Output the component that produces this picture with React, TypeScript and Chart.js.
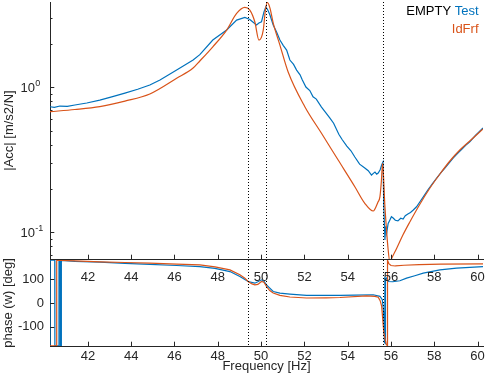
import React, { useEffect, useRef } from "react";
import { Chart, registerables } from "chart.js";

Chart.register(...registerables);

const FONT = "'Liberation Sans', Arial, Helvetica, sans-serif";
const AXIS_COLOR = "#262626";
const BLUE = "#0072BD";
const ORANGE = "#D95319";

// ---- axes ----
const xMin = 40.25;
const xMax = 60.25;
const xTicks = [42, 44, 46, 48, 50, 52, 54, 56, 58, 60];
const magMin = 0.0654;
const magMax = 3.88;
const magMajorTicks = [0.1, 1];
const magMajorLabels = ["-1", "0"];
const magMinorTicks = [0.07, 0.08, 0.09, 0.2, 0.3, 0.4, 0.5, 0.6, 0.7, 0.8, 0.9, 2, 3];
const phaseMin = -180;
const phaseMax = 180;
const phaseTicks = [-100, 0, 100];
const markerFreqs = [49.41, 50.22, 55.63];

const magTitle = "|Acc| [m/s2/N]";
const phaseTitle = "phase (w) [deg]";
const freqTitle = "Frequency [Hz]";
const legendPrefix = "EMPTY";
const testName = "Test";
const idName = "IdFrf";

// ---- IdFrf magnitude ----
const idFreq = [
  40.25, 41.4, 42.55, 43.71, 44.86, 46.1, 46.86, 47.17, 47.77, 48.41, 48.87, 49.25, 49.48, 49.71,
  49.9, 50.1, 50.2, 50.29, 50.41, 50.56, 50.87, 51.25, 52.02, 52.79, 53.56, 54.33, 54.79, 55.18,
  55.4, 55.49, 55.56, 55.61, 55.72, 55.87, 55.95, 56.04, 56.27, 56.55, 56.87, 57.34, 57.8, 58.26,
  58.72, 59.18, 59.64, 60.25,
];
const idMag = [
  0.679, 0.703, 0.737, 0.804, 0.899, 1.154, 1.359, 1.52, 1.905, 2.485, 3.237, 3.563, 3.414, 2.835,
  2.12, 2.485, 3.414, 3.85, 3.52, 2.776, 1.957, 1.275, 0.735, 0.482, 0.315, 0.2063, 0.1585, 0.1402,
  0.1618, 0.176, 0.2295, 0.299, 0.1502, 0.0755, 0.0624, 0.0665, 0.078, 0.0958, 0.1178, 0.1567, 0.202,
  0.2524, 0.3103, 0.3694, 0.4262, 0.5159,
];

// ---- Test magnitude ----
const testFreq = [
  40.25, 40.45, 40.71, 41.05, 41.4, 41.95, 42.55, 43.1, 43.71, 44.3, 44.86, 45.33, 46.1, 46.86, 47.17,
  47.77, 48.41, 48.87, 49.25, 49.48, 49.62, 49.79, 49.9, 50.02, 50.13, 50.22, 50.31, 50.41, 50.56,
  50.71, 50.87, 51.02, 51.18, 51.33, 51.5, 51.64, 51.8, 51.9, 52.07, 52.25, 52.4, 52.55, 52.79, 52.95,
  53.18, 53.35, 53.59, 53.75, 53.96, 54.15, 54.33, 54.55, 54.79, 54.95, 55.1, 55.2, 55.26, 55.34,
  55.41, 55.5, 55.57, 55.63, 55.67, 55.72, 55.76, 55.8, 55.87, 55.95, 56.02, 56.1, 56.2, 56.32, 56.45,
  56.56, 56.66, 56.78, 56.9, 57.03, 57.18, 57.33, 57.5, 57.7, 57.9, 58.11, 58.3, 58.49, 58.68, 58.87,
  59.08, 59.28, 59.45, 59.64, 59.9, 60.25,
];
const testMag = [
  0.735, 0.728, 0.743, 0.738, 0.755, 0.78, 0.817, 0.86, 0.913, 0.97, 1.037, 1.123, 1.316, 1.543, 1.68,
  2.12, 2.485, 2.911, 3.039, 2.935, 2.82, 2.69, 2.776, 2.835, 3.306, 3.596, 3.414, 3.152, 2.69, 2.418,
  2.12, 1.95, 1.808, 1.543, 1.44, 1.316, 1.22, 1.13, 1.005, 0.95, 0.86, 0.83, 0.731, 0.68, 0.614,
  0.565, 0.475, 0.435, 0.3936, 0.365, 0.3306, 0.295, 0.2776, 0.266, 0.2484, 0.256, 0.2605, 0.252,
  0.2564, 0.27, 0.2911, 0.3053, 0.1494, 0.0885, 0.11, 0.0989, 0.115, 0.1216, 0.128, 0.1255, 0.121,
  0.1197, 0.125, 0.1235, 0.13, 0.1337, 0.137, 0.1425, 0.15, 0.1618, 0.176, 0.1957, 0.215, 0.2368,
  0.257, 0.2776, 0.3, 0.3254, 0.35, 0.3754, 0.398, 0.4214, 0.465, 0.524,
];

// ---- IdFrf phase ----
const idPhaseFreq = [
  40.25, 40.55, 40.56, 41.4, 42.55, 43.71, 44.86, 46.1, 47.17, 47.87, 48.56, 49.02, 49.25, 49.4,
  49.58, 49.71, 49.85, 50.02, 50.13, 50.25, 50.4, 50.56, 50.87, 51.33, 52.1, 53.0, 53.64, 54.87,
  55.26, 55.41, 55.5, 55.57, 55.67, 55.78, 55.83, 55.84, 55.9, 56.0, 56.2, 56.6, 57.3, 58.3, 60.25,
];
const idPhase = [
  -179, -179, 179, 176, 172, 169.5, 166.7, 163, 159.6, 151, 138.7, 118, 104, 90, 80, 76, 78, 90, 87,
  69, 52, 42, 32, 25, 21, 21.5, 23, 30, 28, 24, 10, -14, -124, -172, -179, 179, 165, 157, 155, 158,
  161, 163, 164,
];

// ---- Test phase ----
const testPhaseFreq = [
  40.25, 40.252, 40.47, 40.475, 40.66, 40.665, 40.72, 40.725, 40.77, 40.775, 41.4, 42.55, 43.71, 44.86,
  46.1, 47.17, 47.87, 48.56, 49.02, 49.4, 49.71, 49.85, 50.02, 50.13, 50.25, 50.56, 50.87, 51.33,
  52.1, 53.64, 54.33, 55.18, 55.49, 55.6, 55.66, 55.7, 55.715, 55.73, 55.745, 55.78, 55.87, 56.08,
  56.41, 56.72, 57.1, 57.49, 58.26, 59.03, 59.64, 60.25,
];
const testPhase = [
  -179, 179, 179, -179, -179, 179, 179, -179, -179, 178, 174, 171, 166, 161.7, 157, 152.5, 145, 131.7,
  111, 90, 83, 89, 97, 91, 76, 48, 41, 37.5, 31.7, 31.7, 33, 34.6, 28, 14, -40, -165, 110, -170, 100,
  105, 90, 89, 93, 104, 114, 125, 139, 146, 149, 152.5,
];

const toPoints = (xs: number[], ys: number[]) => xs.map((x, i) => ({ x, y: ys[i] }));

function drawMarkers(chart: any) {
  const { ctx, chartArea } = chart;
  const xs = chart.scales.x;
  ctx.save();
  ctx.strokeStyle = "#000";
  ctx.lineWidth = 1;
  ctx.setLineDash([1, 2]);
  ctx.beginPath();
  for (const f of markerFreqs) {
    const px = Math.round(xs.getPixelForValue(f)) + 0.5;
    ctx.moveTo(px, chartArea.top);
    ctx.lineTo(px, chartArea.bottom);
  }
  ctx.stroke();
  ctx.restore();
}

function drawXTicks(chart: any, len: number) {
  const { ctx, chartArea } = chart;
  const xs = chart.scales.x;
  ctx.save();
  ctx.strokeStyle = AXIS_COLOR;
  ctx.lineWidth = 1;
  ctx.beginPath();
  for (const t of xTicks) {
    const px = Math.round(xs.getPixelForValue(t)) + 0.5;
    ctx.moveTo(px, chartArea.bottom);
    ctx.lineTo(px, chartArea.bottom - len);
  }
  ctx.stroke();
  ctx.restore();
}

function drawYTicks(chart: any, values: number[], len: number) {
  const { ctx, chartArea } = chart;
  const ys = chart.scales.y;
  ctx.save();
  ctx.strokeStyle = AXIS_COLOR;
  ctx.lineWidth = 1;
  ctx.beginPath();
  for (const v of values) {
    const py = Math.round(ys.getPixelForValue(v)) + 0.5;
    ctx.moveTo(chartArea.left, py);
    ctx.lineTo(chartArea.left + len, py);
  }
  ctx.stroke();
  ctx.restore();
}

function drawYTitle(chart: any, text: string, cx: number) {
  const { ctx, chartArea } = chart;
  ctx.save();
  ctx.fillStyle = AXIS_COLOR;
  ctx.font = `13px ${FONT}`;
  ctx.textAlign = "center";
  ctx.textBaseline = "middle";
  ctx.translate(cx, (chartArea.top + chartArea.bottom) / 2);
  ctx.rotate(-Math.PI / 2);
  ctx.fillText(text, 0, 0);
  ctx.restore();
}

const magPlugin = {
  id: "magDecor",
  afterDatasetsDraw(chart: any) {
    drawMarkers(chart);
  },
  afterDraw(chart: any) {
    const { ctx } = chart;
    const ys = chart.scales.y;
    drawXTicks(chart, 4.3);
    drawYTicks(chart, magMajorTicks, 4.3);
    drawYTicks(chart, magMinorTicks, 2.5);
    // log tick labels 10^n
    ctx.save();
    ctx.fillStyle = AXIS_COLOR;
    ctx.textAlign = "left";
    ctx.textBaseline = "middle";
    magMajorTicks.forEach((v, i) => {
      const py = ys.getPixelForValue(v);
      ctx.font = `13px ${FONT}`;
      ctx.fillText("10", 20.5, py + 1);
      const w = ctx.measureText("10").width;
      ctx.font = `9px ${FONT}`;
      ctx.fillText(magMajorLabels[i], 20.5 + w + 0.3, py - 4);
    });
    ctx.restore();
    drawYTitle(chart, magTitle, 9);
    // legend
    ctx.save();
    ctx.font = `13px ${FONT}`;
    ctx.textBaseline = "middle";
    ctx.textAlign = "right";
    const rx = 478.5;
    ctx.fillStyle = BLUE;
    ctx.fillText(testName, rx, 11);
    const wt = ctx.measureText(" " + testName).width;
    ctx.fillStyle = "#000";
    ctx.fillText(legendPrefix, rx - wt, 11);
    ctx.fillStyle = ORANGE;
    ctx.fillText(idName, rx, 29.5);
    ctx.restore();
  },
};

const phasePlugin = {
  id: "phaseDecor",
  afterDatasetsDraw(chart: any) {
    drawMarkers(chart);
  },
  afterDraw(chart: any) {
    const { ctx, chartArea } = chart;
    drawXTicks(chart, 4.3);
    drawYTicks(chart, phaseTicks, 4.3);
    drawYTitle(chart, phaseTitle, 8.5);
    ctx.save();
    ctx.fillStyle = AXIS_COLOR;
    ctx.font = `13px ${FONT}`;
    ctx.textAlign = "center";
    ctx.textBaseline = "middle";
    ctx.fillText(freqTitle, (chartArea.left + chartArea.right) / 2, 366.5);
    ctx.restore();
  },
};

const commonGrid = { display: true, drawOnChartArea: false, drawTicks: false };
const commonBorder = { display: true, color: AXIS_COLOR, width: 1 };
const tickFont = { family: FONT, size: 13 };

const fixX = (h: number) => (s: any) => {
  s.height = h;
  s.paddingLeft = 0;
  s.paddingRight = 0;
};
const fixY = (w: number) => (s: any) => {
  s.width = w;
  s.paddingTop = 0;
  s.paddingBottom = 0;
};

export default function App() {
  const magRef = useRef<HTMLCanvasElement>(null);
  const phaseRef = useRef<HTMLCanvasElement>(null);

  useEffect(() => {
    document.body.style.margin = "0";
    const phaseChart = new Chart(phaseRef.current as HTMLCanvasElement, {
      type: "line",
      data: {
        datasets: [
          {
            label: idName,
            data: toPoints(idPhaseFreq, idPhase),
            borderColor: ORANGE,
            borderWidth: 1.2,
            pointRadius: 0,
            tension: 0,
          },
          {
            label: testName,
            data: toPoints(testPhaseFreq, testPhase),
            borderColor: BLUE,
            borderWidth: 1.2,
            pointRadius: 0,
            tension: 0,
          },
        ],
      },
      options: {
        responsive: false,
        animation: false,
        events: [],
        layout: { padding: { top: 260, right: 2, left: 0, bottom: 0 } },
        plugins: { legend: { display: false }, tooltip: { enabled: false } },
        scales: {
          x: {
            type: "linear",
            min: xMin,
            max: xMax,
            afterBuildTicks: (s: any) => {
              s.ticks = xTicks.map((v) => ({ value: v }));
            },
            afterFit: fixX(27),
            grid: commonGrid,
            border: commonBorder,
            ticks: { font: tickFont, color: AXIS_COLOR, padding: 3, maxRotation: 0, autoSkip: false },
          },
          y: {
            type: "linear",
            min: phaseMin,
            max: phaseMax,
            afterBuildTicks: (s: any) => {
              s.ticks = phaseTicks.map((v) => ({ value: v }));
            },
            afterFit: fixY(50),
            grid: commonGrid,
            border: commonBorder,
            ticks: { font: tickFont, color: AXIS_COLOR, padding: 6 },
          },
        },
      },
      plugins: [phasePlugin],
    } as any);

    const magChart = new Chart(magRef.current as HTMLCanvasElement, {
      type: "line",
      data: {
        datasets: [
          {
            label: idName,
            data: toPoints(idFreq, idMag),
            borderColor: ORANGE,
            borderWidth: 1.2,
            pointRadius: 0,
            cubicInterpolationMode: "monotone",
          },
          {
            label: testName,
            data: toPoints(testFreq, testMag),
            borderColor: BLUE,
            borderWidth: 1.2,
            pointRadius: 0,
            tension: 0,
          },
        ],
      },
      options: {
        responsive: false,
        animation: false,
        events: [],
        layout: { padding: { top: 2, right: 2, left: 0, bottom: 0 } },
        plugins: { legend: { display: false }, tooltip: { enabled: false } },
        scales: {
          x: {
            type: "linear",
            min: xMin,
            max: xMax,
            afterBuildTicks: (s: any) => {
              s.ticks = xTicks.map((v) => ({ value: v }));
            },
            afterFit: fixX(31),
            grid: commonGrid,
            border: commonBorder,
            ticks: { font: tickFont, color: AXIS_COLOR, padding: 11, maxRotation: 0, autoSkip: false },
          },
          y: {
            type: "logarithmic",
            min: magMin,
            max: magMax,
            afterBuildTicks: (s: any) => {
              s.ticks = magMajorTicks.map((v) => ({ value: v }));
            },
            afterFit: fixY(50),
            grid: commonGrid,
            border: commonBorder,
            ticks: { display: false },
          },
        },
      },
      plugins: [magPlugin],
    } as any);

    return () => {
      magChart.destroy();
      phaseChart.destroy();
    };
  }, []);

  return (
    <div style={{ position: "fixed", left: 0, top: 0, width: 485, height: 373, background: "#fff" }}>
      <canvas ref={phaseRef} width={485} height={373} style={{ position: "absolute", left: 0, top: 0 }} />
      <canvas ref={magRef} width={485} height={290} style={{ position: "absolute", left: 0, top: 0 }} />
    </div>
  );
}
